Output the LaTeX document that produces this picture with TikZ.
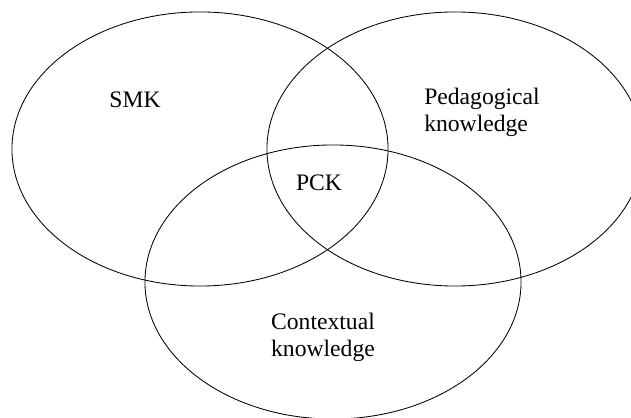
\documentclass[tikz,border=0pt]{standalone}
\usepackage{fontspec}
\setmainfont{Liberation Serif}
\usetikzlibrary{
  shapes.geometric,
  positioning
}

\tikzset{
  knowset/.style = {ellipse, draw, line width=0.6pt, inner sep=0pt,
    minimum width=9.4cm, minimum height=6.85cm},
  setlabel/.style = {inner sep=0pt, align=left,
    font=\fontsize{16.8}{19.2}\selectfont}
}

\begin{document}
\begin{tikzpicture}[x=0.025cm, y=-0.025cm]
    \useasboundingbox (0,0) rectangle (631,418);

    \node[knowset] (smk) at (200,149) {};
    \node[knowset] (pk) at (455,149) {};
    \node[knowset] (ck) at (333,282) {};

    \node[setlabel] (smklabel) at (135,100) {SMK};
    \node[setlabel] (pklabel) at (482,112) {Pedagogical\\knowledge};
    \node[setlabel] (pck) at (319,183) {PCK};
    \node[setlabel] (cklabel) at (323,337) {Contextual\\knowledge};
  \end{tikzpicture}
\end{document}
